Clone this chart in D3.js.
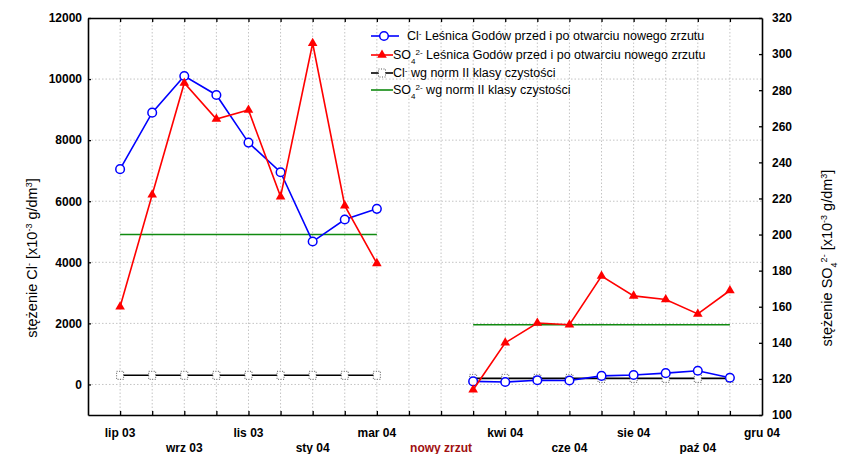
<!DOCTYPE html>
<html>
<head>
<meta charset="utf-8">
<script src="https://cdn.jsdelivr.net/npm/d3@7"></script>
<style>
  body { margin: 0; background: #fff; }
  svg { font-family: "Liberation Sans", Arial, sans-serif; }
  .tick text { font-weight: bold; font-size: 12px; fill: #000; }
  .domain { stroke: #000; stroke-width: 1.6; }
  .tick line { stroke: #000; stroke-width: 1.3; }
</style>
</head>
<body>
<script>
// month index positions (gap between the two periods)
var idxBefore = [0, 1, 2, 3, 4, 5, 6, 7, 8];
var idxAfter = [11, 12, 13, 14, 15, 16, 17, 18, 19];

var clBefore = [7050, 8900, 10100, 9480, 7920, 6950, 4680, 5400, 5750];
var clAfter = [100, 80, 140, 130, 280, 310, 370, 450, 220];
var so4Before = [160, 222, 284, 264, 269, 221, 306, 216, 184];
var so4After = [114, 140, 151, 150, 177, 166, 164, 156, 169];

var clNormBefore = 300, clNormAfter = 200;
var so4NormBefore = 200, so4NormAfter = 150;

var xLabels = ["lip 03", "wrz 03", "lis 03", "sty 04", "mar 04", "nowy zrzut",
  "kwi 04", "cze 04", "sie 04", "paź 04", "gru 04"];
var xLabelIdx = [0, 2, 4, 6, 8, 10, 12, 14, 16, 18, 20];
var leftTicks = [0, 2000, 4000, 6000, 8000, 10000, 12000];
var rightTicks = [100, 120, 140, 160, 180, 200, 220, 240, 260, 280, 300, 320];

var W = 842, H = 454;
var plot = {left: 88, right: 762, top: 18, bottom: 415};

var svg = d3.select("body").append("svg")
  .attr("width", W)
  .attr("height", H);

var x = d3.scaleLinear().domain([-1, 20]).range([plot.left, plot.right]);
var yL = d3.scaleLinear().domain([-1000, 12000]).range([plot.bottom, plot.top]);
var yR = d3.scaleLinear().domain([100, 320]).range([plot.bottom, plot.top]);

var monthTicks = d3.range(0, 20);

// grid
svg.append("g").selectAll("line")
  .data(monthTicks)
  .enter().append("line")
  .attr("x1", d => x(d)).attr("x2", d => x(d))
  .attr("y1", plot.top).attr("y2", plot.bottom)
  .attr("stroke", "#c4c4c4").attr("stroke-width", 1)
  .attr("stroke-dasharray", "1.5,2");

svg.append("g").selectAll("line")
  .data(leftTicks.slice(0, -1))
  .enter().append("line")
  .attr("x1", plot.left).attr("x2", plot.right)
  .attr("y1", d => yL(d)).attr("y2", d => yL(d))
  .attr("stroke", "#c4c4c4").attr("stroke-width", 1)
  .attr("stroke-dasharray", "1.5,2");

// axes
svg.append("g")
  .attr("transform", "translate(" + plot.left + ",0)")
  .call(d3.axisLeft(yL).tickValues(leftTicks).tickFormat(d3.format("d"))
    .tickSize(-3).tickPadding(6).tickSizeOuter(0));

svg.append("g")
  .attr("transform", "translate(" + plot.right + ",0)")
  .call(d3.axisRight(yR).tickValues(rightTicks).tickFormat(d3.format("d"))
    .tickSize(-3).tickPadding(10).tickSizeOuter(0));

svg.append("g")
  .attr("transform", "translate(0," + plot.bottom + ")")
  .call(d3.axisBottom(x).tickValues(monthTicks).tickSize(-4).tickFormat("").tickSizeOuter(0));

svg.append("g")
  .attr("transform", "translate(0," + plot.top + ")")
  .call(d3.axisTop(x).tickValues(monthTicks).tickSize(-4).tickFormat("").tickSizeOuter(0));

// x labels in two rows
svg.append("g").selectAll("text")
  .data(xLabels)
  .enter().append("text")
  .attr("x", (d, i) => x(xLabelIdx[i]))
  .attr("y", (d, i) => i % 2 == 0 ? 437 : 452)
  .attr("text-anchor", "middle")
  .attr("font-size", 12)
  .attr("font-weight", "bold")
  .attr("fill", d => d == "nowy zrzut" ? "#a01010" : "#000")
  .text(d => d);

// axis titles
var tl = svg.append("text")
  .attr("transform", "translate(37,258) rotate(-90)")
  .attr("text-anchor", "middle")
  .attr("font-size", 14.5);
tl.append("tspan").text("stężenie Cl");
tl.append("tspan").attr("baseline-shift", "super").attr("font-size", 9).text("-");
tl.append("tspan").text(" [x10");
tl.append("tspan").attr("baseline-shift", "super").attr("font-size", 9).text("-3");
tl.append("tspan").text(" g/dm");
tl.append("tspan").attr("baseline-shift", "super").attr("font-size", 9).text("3");
tl.append("tspan").text("]");

var tr = svg.append("text")
  .attr("transform", "translate(832,258) rotate(-90)")
  .attr("text-anchor", "middle")
  .attr("font-size", 14.5);
tr.append("tspan").text("stężenie SO");
tr.append("tspan").attr("baseline-shift", "sub").attr("font-size", 9).text("4");
tr.append("tspan").attr("baseline-shift", "super").attr("font-size", 9).text("2-");
tr.append("tspan").text(" [x10");
tr.append("tspan").attr("baseline-shift", "super").attr("font-size", 9).text("-3");
tr.append("tspan").text(" g/dm");
tr.append("tspan").attr("baseline-shift", "super").attr("font-size", 9).text("3");
tr.append("tspan").text("]");

var line = d3.line().x(d => x(d[0])).y(d => d[1]);

function drawNormBox(g, cx, cy) {
  g.append("rect")
    .attr("x", cx - 3.5).attr("y", cy - 4)
    .attr("width", 7).attr("height", 8)
    .attr("fill", "#fff").attr("stroke", "#444")
    .attr("stroke-width", 0.9).attr("stroke-dasharray", "1,1.5");
}

// Cl norm (black)
[[idxBefore, clNormBefore], [idxAfter, clNormAfter]].forEach(function(p) {
  var pts = p[0].map(i => [i, yL(p[1])]);
  svg.append("path").attr("d", line(pts))
    .attr("fill", "none").attr("stroke", "#000").attr("stroke-width", 1.6);
  var g = svg.append("g");
  pts.forEach(d => drawNormBox(g, x(d[0]), d[1]));
});

// SO4 norm (green)
[[idxBefore, so4NormBefore], [idxAfter, so4NormAfter]].forEach(function(p) {
  var pts = p[0].map(i => [i, yR(p[1])]);
  svg.append("path").attr("d", line(pts))
    .attr("fill", "none").attr("stroke", "#108a10").attr("stroke-width", 1.6);
});

// Cl series (blue)
[[idxBefore, clBefore], [idxAfter, clAfter]].forEach(function(p) {
  var pts = p[0].map((i, j) => [i, yL(p[1][j])]);
  svg.append("path").attr("d", line(pts))
    .attr("fill", "none").attr("stroke", "#0000ff").attr("stroke-width", 1.6);
  svg.append("g").selectAll("circle")
    .data(pts).enter().append("circle")
    .attr("cx", d => x(d[0])).attr("cy", d => d[1]).attr("r", 4.3)
    .attr("fill", "#fff").attr("stroke", "#0000ff").attr("stroke-width", 1.5);
});

// SO4 series (red)
var tri = d3.symbol().type(d3.symbolTriangle).size(40);
[[idxBefore, so4Before], [idxAfter, so4After]].forEach(function(p) {
  var pts = p[0].map((i, j) => [i, yR(p[1][j])]);
  svg.append("path").attr("d", line(pts))
    .attr("fill", "none").attr("stroke", "#ff0000").attr("stroke-width", 1.6);
  svg.append("g").selectAll("path")
    .data(pts).enter().append("path")
    .attr("d", tri)
    .attr("transform", d => "translate(" + x(d[0]) + "," + d[1] + ")")
    .attr("fill", "#ff0000");
});

// legend
var lg = svg.append("g").attr("font-size", 12.5);
var rows = [36, 55, 73, 90];

lg.append("line").attr("x1", 371).attr("x2", 399).attr("y1", rows[0]).attr("y2", rows[0])
  .attr("stroke", "#0000ff").attr("stroke-width", 1.6);
lg.append("circle").attr("cx", 384).attr("cy", rows[0]).attr("r", 4.3)
  .attr("fill", "#fff").attr("stroke", "#0000ff").attr("stroke-width", 1.5);
var t1 = lg.append("text").attr("x", 407).attr("y", rows[0] + 4);
t1.append("tspan").text("Cl");
t1.append("tspan").attr("baseline-shift", "super").attr("font-size", 8).text("-");
t1.append("tspan").text(" Leśnica Godów przed i po otwarciu nowego zrzutu");

lg.append("line").attr("x1", 371).attr("x2", 393).attr("y1", rows[1]).attr("y2", rows[1])
  .attr("stroke", "#ff0000").attr("stroke-width", 1.6);
lg.append("path").attr("d", tri).attr("transform", "translate(382," + rows[1] + ")")
  .attr("fill", "#ff0000");
var t2 = lg.append("text").attr("x", 393).attr("y", rows[1] + 4);
t2.append("tspan").text("SO");
t2.append("tspan").attr("baseline-shift", "sub").attr("font-size", 8).text("4");
t2.append("tspan").attr("baseline-shift", "super").attr("font-size", 8).text("2-");
t2.append("tspan").text(" Leśnica Godów przed i po otwarciu nowego zrzutu");

lg.append("line").attr("x1", 371).attr("x2", 393).attr("y1", rows[2]).attr("y2", rows[2])
  .attr("stroke", "#000").attr("stroke-width", 1.6);
drawNormBox(lg, 382, rows[2]);
var t3 = lg.append("text").attr("x", 393).attr("y", rows[2] + 4);
t3.append("tspan").text("Cl");
t3.append("tspan").attr("baseline-shift", "super").attr("font-size", 8).text("-");
t3.append("tspan").text(" wg norm II klasy czystości");

lg.append("line").attr("x1", 371).attr("x2", 393).attr("y1", rows[3]).attr("y2", rows[3])
  .attr("stroke", "#108a10").attr("stroke-width", 1.6);
var t4 = lg.append("text").attr("x", 393).attr("y", rows[3] + 4);
t4.append("tspan").text("SO");
t4.append("tspan").attr("baseline-shift", "sub").attr("font-size", 8).text("4");
t4.append("tspan").attr("baseline-shift", "super").attr("font-size", 8).text("2-");
t4.append("tspan").text(" wg norm II klasy czystości");
</script>
</body>
</html>
